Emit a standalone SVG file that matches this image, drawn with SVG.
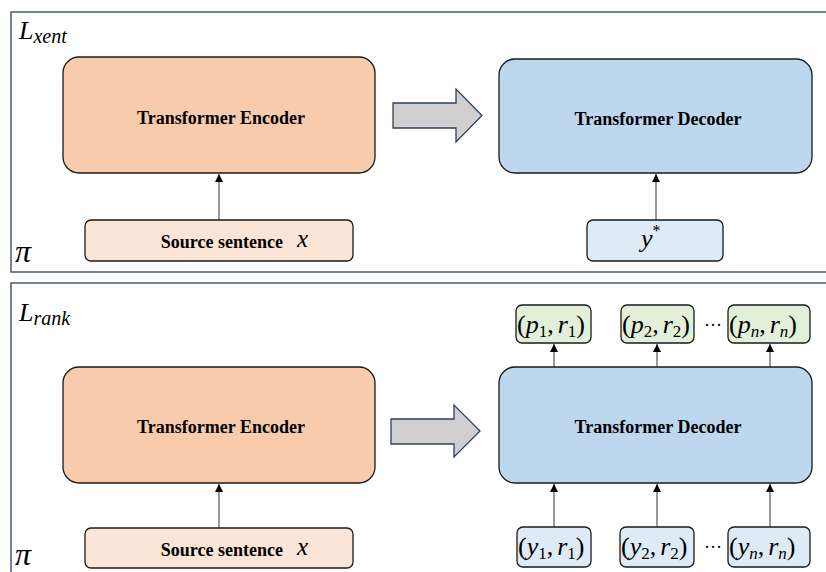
<svg xmlns="http://www.w3.org/2000/svg" width="826" height="572" viewBox="0 0 826 572">
<style>
.frame{fill:none;stroke:#4A5A78;stroke-width:1.5}
.enc{fill:#F8CBAD;stroke:#1a1a1a;stroke-width:1.3}
.src{fill:#FBE5D6;stroke:#1a1a1a;stroke-width:1.3}
.dec{fill:#BDD7EE;stroke:#1a1a1a;stroke-width:1.3}
.inp{fill:#DEEBF7;stroke:#1a1a1a;stroke-width:1.3}
.out{fill:#E2F0D9;stroke:#1a1a1a;stroke-width:1.3}
.big{fill:#D0CECE;stroke:#2F4060;stroke-width:1.3}
.lbl{font-family:"Liberation Serif","Times New Roman",serif;font-weight:bold;font-size:18px;fill:#000;text-anchor:middle}
.lble{font-family:"Liberation Serif","Times New Roman",serif;font-weight:bold;font-size:18px;fill:#000;text-anchor:end}
.m{font-family:"Liberation Serif","Times New Roman",serif;font-style:italic;fill:#000}
.mr{font-family:"Liberation Serif","Times New Roman",serif;font-style:normal;fill:#000}
.sub{font-size:17px}
.conn line{stroke:#333;stroke-width:1}
</style>
<defs>
<marker id="ah" viewBox="0 0 8 8" refX="8" refY="4" markerWidth="8" markerHeight="8" markerUnits="userSpaceOnUse" orient="auto">
<path d="M0,0 L8,4 L0,8 Z" fill="#000"/>
</marker>
</defs>
<rect width="826" height="572" fill="#fff"/>

<g id="panel-top">
<path class="frame" d="M830,12 L11,12 L11,272 L830,272"/>
<text class="m" x="19" y="39" font-size="26">L<tspan font-size="20" dy="4">xent</tspan></text>
<text class="m" x="15" y="262" font-size="32">π</text>
</g>

<g id="panel-bottom">
<path class="frame" d="M830,283 L11,283 L11,580"/>
<text class="m" x="19" y="321" font-size="26">L<tspan font-size="20" dy="4">rank</tspan></text>
<text class="m" x="15" y="565" font-size="32">π</text>
</g>

<g id="enc1"><rect class="enc" x="63" y="57" width="312" height="116" rx="16"/><text class="lbl" x="221" y="124">Transformer Encoder</text></g>
<g id="src1"><rect class="src" x="85" y="220" width="268" height="41" rx="6"/><text class="lble" x="283" y="248">Source sentence</text><text class="m" x="297" y="247" font-size="25">x</text></g>
<g id="arrow1"><path class="big" d="M393,103 L456,103 L456,89 L482,115.5 L456,142 L456,128 L393,128 Z"/></g>
<g id="dec1"><rect class="dec" x="499" y="59" width="313" height="114" rx="16"/><text class="lbl" x="658" y="125">Transformer Decoder</text></g>
<g id="ystar"><rect class="inp" x="587" y="220" width="136" height="41" rx="6"/><text class="m" x="641" y="247" font-size="26">y<tspan font-size="16" dy="-11" class="mr">*</tspan></text></g>

<g id="enc2"><rect class="enc" x="63" y="367" width="312" height="116" rx="16"/><text class="lbl" x="221" y="433">Transformer Encoder</text></g>
<g id="src2"><rect class="src" x="85" y="528" width="268" height="40" rx="6"/><text class="lble" x="283" y="556">Source sentence</text><text class="m" x="297" y="555" font-size="25">x</text></g>
<g id="arrow2"><path class="big" d="M391,419 L454,419 L454,405 L480,431 L454,457 L454,444 L391,444 Z"/></g>
<g id="dec2"><rect class="dec" x="499" y="367" width="313" height="116" rx="16"/><text class="lbl" x="658" y="433">Transformer Decoder</text></g>

<g id="out1"><rect class="out" x="516" y="305" width="75" height="38" rx="6"/><text class="m" x="517" y="333" font-size="26"><tspan class="mr">(</tspan>p<tspan class="mr sub" dy="4">1</tspan><tspan dy="-4" class="mr">,</tspan><tspan dx="4">r</tspan><tspan class="mr sub" dy="4">1</tspan><tspan dy="-4" class="mr">)</tspan></text></g>
<g id="out2"><rect class="out" x="621" y="305" width="73" height="38" rx="6"/><text class="m" x="622" y="333" font-size="26"><tspan class="mr">(</tspan>p<tspan class="mr sub" dy="4">2</tspan><tspan dy="-4" class="mr">,</tspan><tspan dx="4">r</tspan><tspan class="mr sub" dy="4">2</tspan><tspan dy="-4" class="mr">)</tspan></text></g>
<g id="out3"><rect class="out" x="728" y="305" width="82" height="38" rx="6"/><text class="m" x="729" y="333" font-size="26"><tspan class="mr">(</tspan>p<tspan class="sub" dy="4">n</tspan><tspan dy="-4" class="mr">,</tspan><tspan dx="4">r</tspan><tspan class="sub" dy="4">n</tspan><tspan dy="-4" class="mr">)</tspan></text></g>
<g id="dots-out"><text class="mr" x="713" y="331" font-size="18" text-anchor="middle">···</text></g>

<g id="in1"><rect class="inp" x="517" y="527" width="74" height="40" rx="6"/><text class="m" x="518" y="555" font-size="26"><tspan class="mr">(</tspan>y<tspan class="mr sub" dy="4">1</tspan><tspan dy="-4" class="mr">,</tspan><tspan dx="4">r</tspan><tspan class="mr sub" dy="4">1</tspan><tspan dy="-4" class="mr">)</tspan></text></g>
<g id="in2"><rect class="inp" x="620" y="527" width="74" height="40" rx="6"/><text class="m" x="621" y="555" font-size="26"><tspan class="mr">(</tspan>y<tspan class="mr sub" dy="4">2</tspan><tspan dy="-4" class="mr">,</tspan><tspan dx="4">r</tspan><tspan class="mr sub" dy="4">2</tspan><tspan dy="-4" class="mr">)</tspan></text></g>
<g id="in3"><rect class="inp" x="728" y="527" width="82" height="40" rx="6"/><text class="m" x="729" y="555" font-size="26"><tspan class="mr">(</tspan>y<tspan class="sub" dy="4">n</tspan><tspan dy="-4" class="mr">,</tspan><tspan dx="4">r</tspan><tspan class="sub" dy="4">n</tspan><tspan dy="-4" class="mr">)</tspan></text></g>
<g id="dots-in"><text class="mr" x="713" y="553" font-size="18" text-anchor="middle">···</text></g>

<g class="conn" id="connectors">
<line x1="219" y1="220" x2="219" y2="174" marker-end="url(#ah)"/>
<line x1="656" y1="220" x2="656" y2="174" marker-end="url(#ah)"/>
<line x1="219" y1="528" x2="219" y2="484" marker-end="url(#ah)"/>
<line x1="554" y1="527" x2="554" y2="484" marker-end="url(#ah)"/>
<line x1="657" y1="527" x2="657" y2="484" marker-end="url(#ah)"/>
<line x1="770" y1="527" x2="770" y2="484" marker-end="url(#ah)"/>
<line x1="554" y1="367" x2="554" y2="344" marker-end="url(#ah)"/>
<line x1="657" y1="367" x2="657" y2="344" marker-end="url(#ah)"/>
<line x1="770" y1="367" x2="770" y2="344" marker-end="url(#ah)"/>
</g>
</svg>
